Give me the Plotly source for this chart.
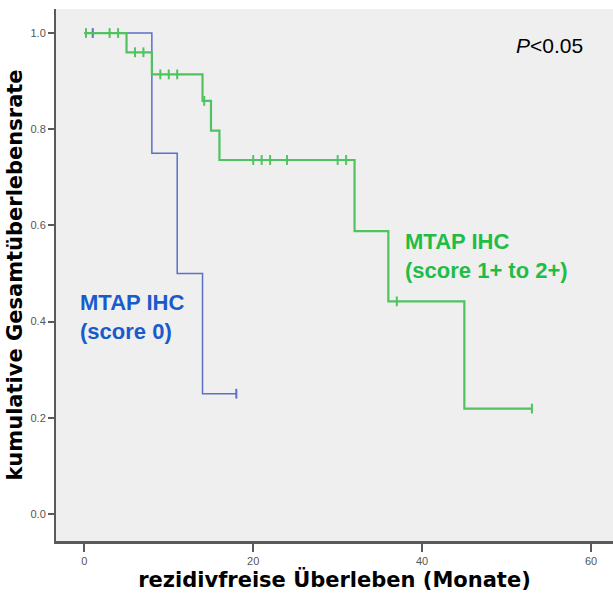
import plotly.graph_objects as go
import numpy as np

# Kaplan-Meier step data (time in months, survival)
blue_times = [0, 8, 11, 14, 18]
blue_surv = [1.0, 0.75, 0.50, 0.25, 0.25]
blue_censor = [1, 18]

green_times = [0, 5, 8, 14, 15, 16, 32, 36, 45, 53]
green_surv = [1.0, 0.960, 0.914, 0.859, 0.797, 0.736, 0.588, 0.442, 0.219, 0.219]
green_censor = [0.2, 3, 4, 6, 7, 9, 10, 11, 14.2, 20, 21, 22, 24, 30, 31, 37, 53]

x_ticks = [0, 20, 40, 60]
y_ticks = [0.0, 0.2, 0.4, 0.6, 0.8, 1.0]

BLUE = "#5b70c6"
GREEN = "#4fc35f"


def surv_at(times, surv, t):
    idx = np.searchsorted(times, t, side="right") - 1
    return surv[max(idx, 0)]


fig = go.Figure()
for times, surv, cens, col, w in [
    (blue_times, blue_surv, blue_censor, BLUE, 1.5),
    (green_times, green_surv, green_censor, GREEN, 2.2),
]:
    fig.add_trace(go.Scatter(x=times, y=surv, mode="lines", line=dict(color=col, width=w, shape="hv"),
                             showlegend=False, hoverinfo="skip"))
    fig.add_trace(go.Scatter(x=cens, y=[surv_at(times, surv, t) for t in cens], mode="markers",
                             marker=dict(symbol="line-ns", size=7, line=dict(color=col, width=2)),
                             showlegend=False, hoverinfo="skip"))

tick_font = dict(family="Liberation Sans Narrow, Liberation Sans, sans-serif", size=11, color="#555555")
title_font = dict(family="DejaVu Sans, Arial, sans-serif", size=21, color="#000000", weight="bold")

fig.update_layout(
    width=613, height=597,
    margin=dict(l=56, r=0, t=9, b=56),
    paper_bgcolor="white",
    plot_bgcolor="#efefef",
    xaxis=dict(range=[-3.35, 62.6], tickvals=x_ticks, ticktext=[str(v) for v in x_ticks],
               showgrid=False, zeroline=False, showline=True, linecolor="#5a5a5a", linewidth=2.5,
               ticks="outside", ticklen=8, tickwidth=2, tickcolor="#5a5a5a", tickfont=tick_font,
               title=dict(text="rezidivfreise Überleben (Monate)", font=title_font, standoff=4)),
    yaxis=dict(range=[-0.0563, 1.05], tickvals=y_ticks, ticktext=[f"{v:.1f}" for v in y_ticks],
               showgrid=False, zeroline=False, showline=True, linecolor="#5a5a5a", linewidth=2,
               ticks="outside", ticklen=6, tickwidth=2, tickcolor="#5a5a5a", tickfont=tick_font,
               title=dict(text="kumulative Gesamtüberlebensrate", font=title_font, standoff=2)),
    annotations=[
        dict(x=585, y=0.932, xref="paper", yref="paper", xanchor="right", yanchor="middle",
             text="<i>P</i>&lt;0.05", showarrow=False,
             font=dict(family="Liberation Sans, Arial", size=21, color="#000000")),
        dict(x=78, y=0.41, xref="paper", yref="y", text="MTAP IHC<br>(score 0)", showarrow=False,
             xanchor="left", yanchor="middle", align="left",
             font=dict(family="Liberation Sans, Arial", size=22, color="#1a5bcc", weight="bold")),
        dict(x=403, y=0.536, xref="paper", yref="y", text="MTAP IHC<br>(score 1+ to 2+)", showarrow=False,
             xanchor="left", yanchor="middle", align="left",
             font=dict(family="Liberation Sans, Arial", size=22, color="#1fbd47", weight="bold")),
    ],
)
# convert pixel x for annotations into paper fractions
pw = 613 - 56
for a in fig.layout.annotations:
    a.x = (a.x - 56) / pw

fig.write_html("out.html")
